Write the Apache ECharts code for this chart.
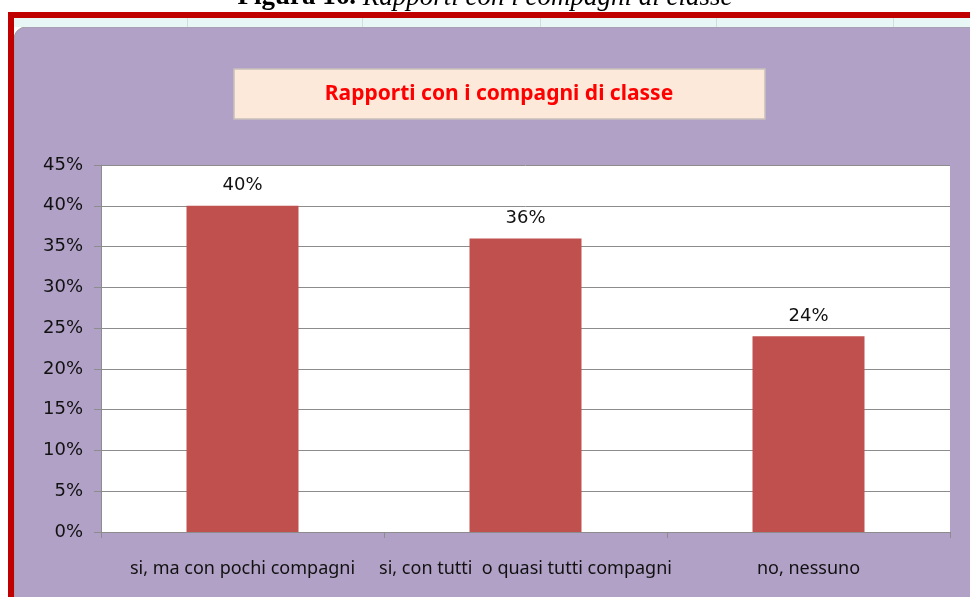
<!DOCTYPE html>
<html>
<head>
<meta charset="utf-8">
<script src="https://cdn.jsdelivr.net/npm/echarts@6/dist/echarts.min.js"></script>
<style>
  html, body { margin: 0; padding: 0; background: #ffffff; }
  #chart { width: 970px; height: 597px; }
</style>
</head>
<body>
<div id="chart"></div>
<script>
// dati del grafico
var categorie = ['si, ma con pochi compagni', 'si, con tutti  o quasi tutti compagni', 'no, nessuno'];
var valori = [40, 36, 24];
var tickLabels = ['0%', '5%', '10%', '15%', '20%', '25%', '30%', '35%', '40%', '45%'];

var titolo = 'Rapporti con i compagni di classe';
var didascaliaNum = 'Figura 16.';
var didascaliaTesto = ' Rapporti con i compagni di classe';

var chart = echarts.init(document.getElementById('chart'));

// linee verticali delle celle del foglio sopra il grafico
var lineeCelle = [];
[187, 362, 540, 716, 893].forEach(function (x) {
    lineeCelle.push({ type: 'rect', z: -9, shape: { x: x, y: 18, width: 1, height: 9 }, style: { fill: '#d0dede' } });
});

var option = {
    backgroundColor: '#ffffff',
    animation: false,
    graphic: [
        // sfondo viola
        { type: 'rect', z: -10, shape: { x: 14, y: 27, width: 960, height: 575, r: [12, 0, 0, 0] },
          style: { fill: '#b1a1c7', stroke: '#a0a0a0', lineWidth: 1 } },
        // striscia celeste (celle del foglio)
        { type: 'rect', z: -10, shape: { x: 14, y: 18, width: 960, height: 9 },
          style: { fill: '#e9f6f6' } },
        // cornice rossa
        { type: 'rect', z: -5, shape: { x: 8, y: 12, width: 962, height: 6 }, style: { fill: '#c00000' } },
        { type: 'rect', z: -5, shape: { x: 8, y: 12, width: 6, height: 585 }, style: { fill: '#c00000' } },
        // didascalia in alto (tagliata)
        { type: 'text', left: 'center', top: -16,
          style: {
              text: '{b|' + didascaliaNum + '}{i|' + didascaliaTesto + '}',
              rich: {
                  b: { fontFamily: 'Liberation Serif', fontWeight: 'bold', fontSize: 27, fill: '#000' },
                  i: { fontFamily: 'Liberation Serif', fontStyle: 'italic', fontSize: 27, fill: '#000' }
              }
          } },
        // riquadro titolo
        { type: 'rect', shape: { x: 234, y: 69, width: 531, height: 50 },
          style: { fill: '#fde9d9', stroke: '#c8c0bc', lineWidth: 1.5 } },
        { type: 'text', x: 499, y: 94,
          style: { text: titolo, fill: '#ff0000', fontFamily: 'Noto Sans', fontWeight: 'bold', fontSize: 21,
                   align: 'center', verticalAlign: 'middle' } }
    ].concat(lineeCelle),
    grid: {
        left: 101, right: 20, top: 165, bottom: 65,
        show: true, backgroundColor: '#ffffff', borderWidth: 0
    },
    xAxis: {
        type: 'category',
        data: categorie,
        axisLine: { lineStyle: { color: '#8c8c8c', width: 1 } },
        axisTick: { show: true, alignWithLabel: false, length: 6, lineStyle: { color: '#8c8c8c' } },
        axisLabel: { color: '#111111', fontFamily: 'Noto Sans', fontSize: 18, margin: 28, interval: 0 }
    },
    yAxis: {
        type: 'value',
        min: 0, max: 45, interval: 5,
        axisLine: { show: true, lineStyle: { color: '#8c8c8c' } },
        axisTick: { show: true, length: 7, lineStyle: { color: '#8c8c8c' } },
        splitLine: { lineStyle: { color: '#8c8c8c', width: 1 } },
        axisLabel: {
            color: '#111111', fontFamily: 'DejaVu Sans', fontSize: 18, margin: 18,
            formatter: function (v) { return tickLabels[Math.round(v / 5)]; }
        }
    },
    series: [{
        type: 'bar',
        data: valori,
        barWidth: 112,
        itemStyle: { color: '#c0504d' },
        label: {
            show: true, position: 'top', distance: 11,
            color: '#111111', fontFamily: 'DejaVu Sans', fontSize: 18,
            formatter: function (p) { return p.value + '%'; }
        }
    }]
};

chart.setOption(option);
</script>
</body>
</html>
